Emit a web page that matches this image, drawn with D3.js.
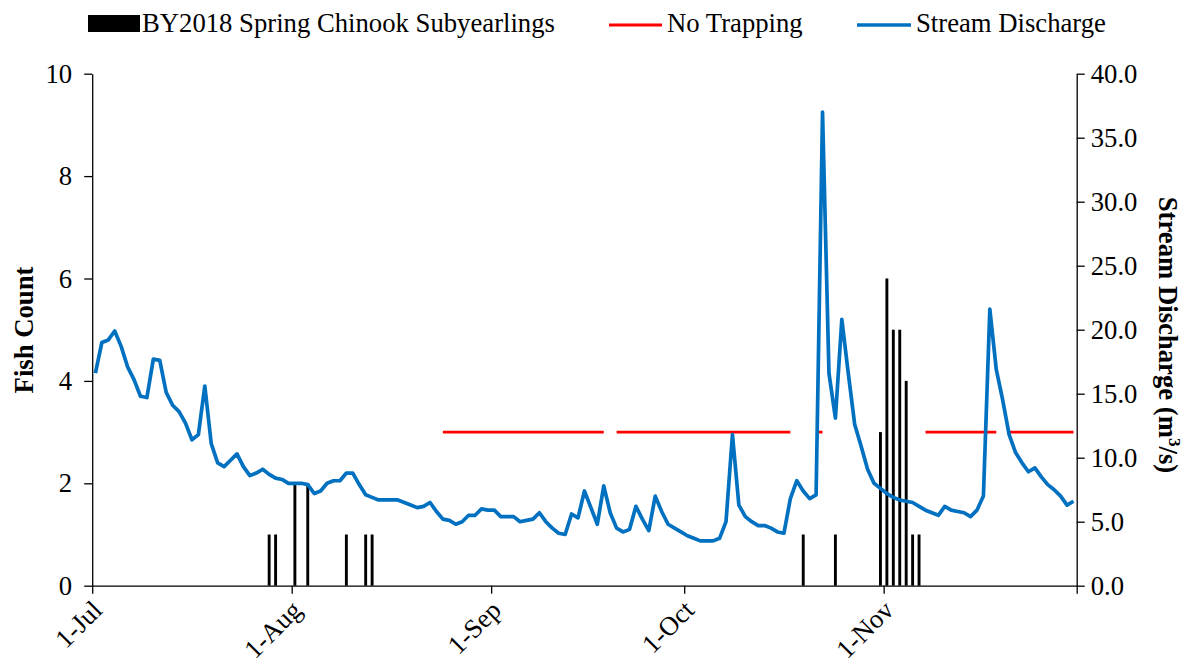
<!DOCTYPE html>
<html>
<head>
<meta charset="utf-8">
<script src="https://cdn.jsdelivr.net/npm/d3@7"></script>
<style>
  body { margin: 0; background: #fff; }
  text { font-family: "Liberation Serif", "Times New Roman", serif; fill: #000; }
</style>
</head>
<body>
<div id="chart-area"></div>
<script>
// daily discharge (m3/s), 1-Jul .. 30-Nov 2019
var startDay = "2019-07-01";
var endDay = "2019-12-01";
var discharge = [
  16.6, 19.0, 19.2, 19.9, 18.7, 17.1, 16.1, 14.8, 14.7, 17.7,
  17.6, 15.1, 14.1, 13.6, 12.7, 11.4, 11.8, 15.6, 11.1, 9.6,
  9.3, 9.8, 10.3, 9.3, 8.6, 8.8, 9.1, 8.7, 8.4, 8.3,
  8.0, 8.0, 8.0, 7.9, 7.2, 7.4, 8.0, 8.2, 8.2, 8.8,
  8.8, 7.9, 7.1, 6.9, 6.7, 6.7, 6.7, 6.7, 6.5, 6.3,
  6.1, 6.2, 6.5, 5.8, 5.2, 5.1, 4.8, 5.0, 5.5, 5.5,
  6.0, 5.9, 5.9, 5.4, 5.4, 5.4, 5.0, 5.1, 5.2, 5.7,
  5.0, 4.5, 4.1, 4.0, 5.6, 5.3, 7.4, 6.1, 4.8, 7.8,
  5.7, 4.5, 4.2, 4.4, 6.2, 5.2, 4.3, 7.0, 5.8, 4.8,
  4.5, 4.2, 3.9, 3.7, 3.5, 3.5, 3.5, 3.7, 5.0, 11.8,
  6.3, 5.4, 5.0, 4.7, 4.7, 4.5, 4.2, 4.1, 6.8, 8.2,
  7.4, 6.8, 7.1, 37.0, 16.6, 13.1, 20.8, 16.6, 12.6, 10.9,
  9.1, 8.0, 7.6, 7.2, 6.9, 6.7, 6.6, 6.5, 6.2, 5.9,
  5.7, 5.5, 6.2, 5.9, 5.8, 5.7, 5.4, 5.9, 7.0, 21.6,
  16.9, 14.5, 11.8, 10.4, 9.6, 8.9, 9.2, 8.5, 7.9, 7.5,
  7.0, 6.3, 6.6
];

// fish caught
var fishDates = ["2019-07-28", "2019-07-29", "2019-08-01", "2019-08-03", "2019-08-09",
  "2019-08-12", "2019-08-13", "2019-10-19", "2019-10-24", "2019-10-31",
  "2019-11-01", "2019-11-02", "2019-11-03", "2019-11-04", "2019-11-05", "2019-11-06"];
var fishCounts = [1, 1, 2, 2, 1, 1, 1, 1, 1, 3, 6, 5, 5, 4, 1, 1];

// days with no trapping (plotted at 3)
var noTrapStart = ["2019-08-24", "2019-09-20", "2019-10-21", "2019-11-07", "2019-11-20"];
var noTrapEnd = ["2019-09-18", "2019-10-17", "2019-10-22", "2019-11-18", "2019-11-30"];
var noTrapLevel = 3;

var xTicks = ["2019-07-01", "2019-08-01", "2019-09-01", "2019-10-01", "2019-11-01", "2019-12-01"];
var leftTicks = [0, 2, 4, 6, 8, 10];
var rightTicks = [0, 5, 10, 15, 20, 25, 30, 35, 40];

var W = 1187, H = 665;
var FS = 26.7;
var blue = "#0070C0", red = "#FF0000";
var parse = d3.utcParse("%Y-%m-%d");
var fmtDay = d3.utcFormat("%-d-%b");

var svg = d3.select("#chart-area").append("svg")
    .attr("width", W)
    .attr("height", H)
    .style("background", "#fff");

var x = d3.scaleUtc()
    .domain([parse(startDay), parse(endDay)])
    .range([92.2, 1076.7]);
var dayW = x(parse("2019-07-02")) - x(parse("2019-07-01"));
var xc = function(d) { return x(d) + dayW / 2; };  // centre of the day slot

var yL = d3.scaleLinear().domain([0, 10]).range([585.7, 73.7]);
var yR = d3.scaleLinear().domain([0, 40]).range([585.7, 73.7]);

// bars
var bars = fishDates.map(function(d, i) { return {date: parse(d), n: fishCounts[i]}; });
var bw = 2.9;
svg.append("g").selectAll("rect")
    .data(bars)
    .enter().append("rect")
    .attr("x", function(d) { return xc(d.date) - bw / 2; })
    .attr("y", function(d) { return yL(d.n); })
    .attr("width", bw)
    .attr("height", function(d) { return yL(0) - yL(d.n); })
    .attr("fill", "#000");

// no trapping segments
var trapLine = d3.line()
    .x(function(d) { return xc(d); })
    .y(function() { return yL(noTrapLevel); });
noTrapStart.forEach(function(s, i) {
    var days = d3.utcDay.range(parse(s), d3.utcDay.offset(parse(noTrapEnd[i]), 1));
    svg.append("path")
        .datum(days)
        .attr("d", trapLine)
        .attr("fill", "none")
        .attr("stroke", red)
        .attr("stroke-width", 2.8);
});

// discharge
var flow = discharge.map(function(v, i) {
    return {date: d3.utcDay.offset(parse(startDay), i), q: v};
});
svg.append("path")
    .datum(flow)
    .attr("d", d3.line()
        .x(function(d) { return xc(d.date); })
        .y(function(d) { return yR(d.q); }))
    .attr("fill", "none")
    .attr("stroke", blue)
    .attr("stroke-width", 3.7)
    .attr("stroke-linejoin", "round");

// axes
function styleAxis(g) {
    g.selectAll("path, line").attr("stroke", "#000").attr("stroke-width", 1.3);
    g.selectAll("text").attr("font-size", FS).attr("font-family", "Liberation Serif").attr("fill", "#000");
}

svg.append("g")
    .attr("transform", "translate(" + x.range()[0] + ",0)")
    .call(d3.axisLeft(yL).tickValues(leftTicks).tickSize(8).tickSizeOuter(0).tickPadding(12))
    .call(styleAxis);

svg.append("g")
    .attr("transform", "translate(" + x.range()[1] + ",0)")
    .call(d3.axisRight(yR).tickValues(rightTicks).tickSize(8).tickSizeOuter(0).tickPadding(6)
        .tickFormat(d3.format(".1f")))
    .call(styleAxis);

var xAxisG = svg.append("g")
    .attr("transform", "translate(0," + yL(0) + ")")
    .call(d3.axisBottom(x).tickValues(xTicks.map(parse)).tickSize(8).tickSizeOuter(0)
        .tickFormat(function(d, i) { return i < xTicks.length - 1 ? fmtDay(d) : ""; }))
    .call(styleAxis);
xAxisG.selectAll("text")
    .attr("text-anchor", "end")
    .attr("dy", null)
    .attr("y", null)
    .attr("transform", "translate(11,26) rotate(-45)");

// axis titles
svg.append("text")
    .attr("transform", "translate(33,330) rotate(-90)")
    .attr("text-anchor", "middle")
    .attr("font-size", FS)
    .attr("font-weight", "bold")
    .text("Fish Count");

var rt = svg.append("text")
    .attr("transform", "translate(1159,335) rotate(90)")
    .attr("text-anchor", "middle")
    .attr("font-size", FS)
    .attr("font-weight", "bold");
rt.append("tspan").text("Stream Discharge (m");
rt.append("tspan").attr("font-size", FS * 0.65).attr("dy", -10).text("3");
rt.append("tspan").attr("dy", 10).text("/s)");

// legend
var lg = svg.append("g");
lg.append("rect").attr("x", 88).attr("y", 15).attr("width", 52).attr("height", 17).attr("fill", "#000");
lg.append("text").attr("x", 142).attr("y", 32).attr("font-size", FS).text("BY2018 Spring Chinook Subyearlings");
lg.append("line").attr("x1", 609).attr("x2", 662).attr("y1", 25).attr("y2", 25)
    .attr("stroke", red).attr("stroke-width", 3);
lg.append("text").attr("x", 667).attr("y", 32).attr("font-size", FS).text("No Trapping");
lg.append("line").attr("x1", 857).attr("x2", 911).attr("y1", 25).attr("y2", 25)
    .attr("stroke", blue).attr("stroke-width", 3.7);
lg.append("text").attr("x", 916).attr("y", 32).attr("font-size", FS).text("Stream Discharge");
</script>
</body>
</html>
